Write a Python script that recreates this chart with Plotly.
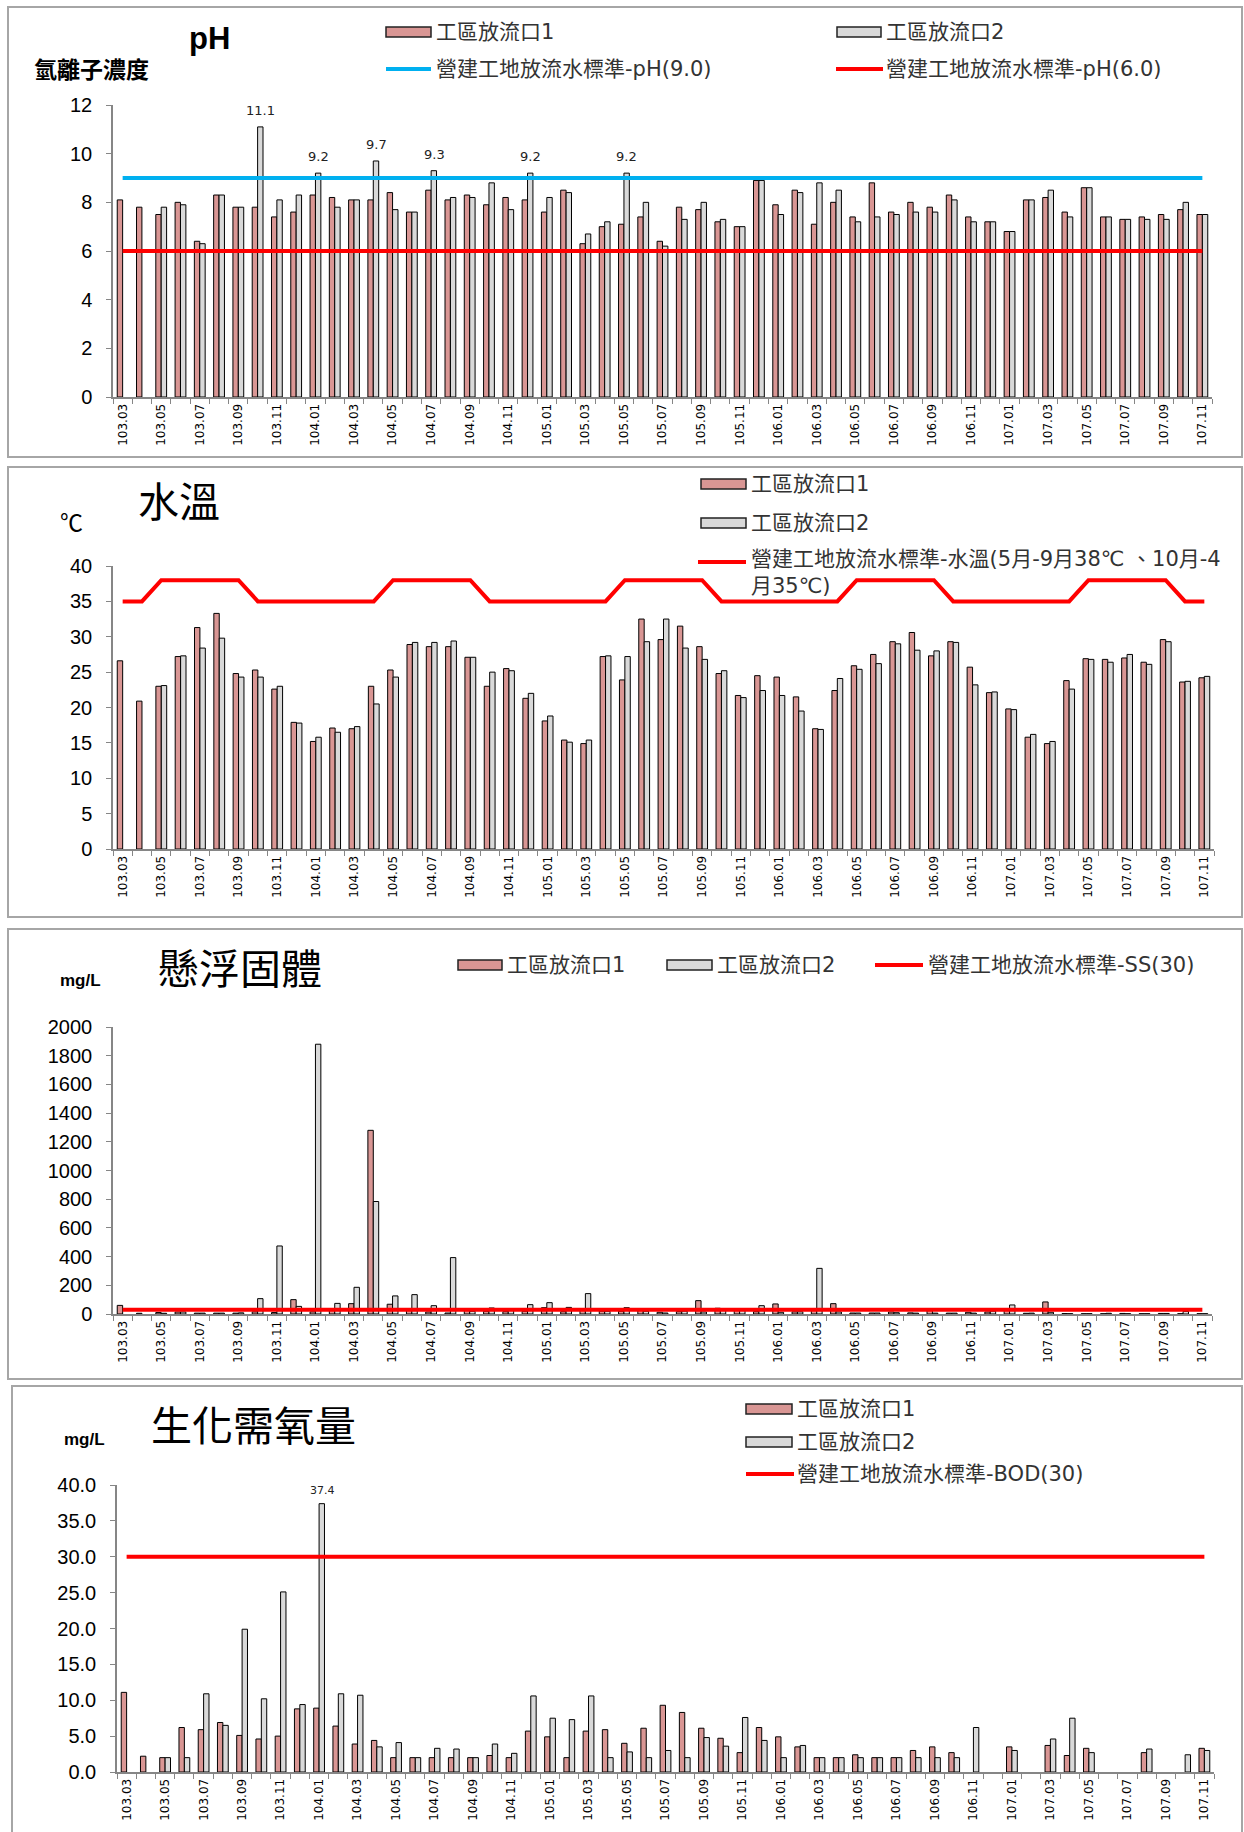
import plotly.graph_objects as go

# ---------------- data ----------------
months = ["103.03", "103.04", "103.05", "103.06", "103.07", "103.08", "103.09", "103.10", "103.11", "103.12",
          "104.01", "104.02", "104.03", "104.04", "104.05", "104.06", "104.07", "104.08", "104.09", "104.10",
          "104.11", "104.12", "105.01", "105.02", "105.03", "105.04", "105.05", "105.06", "105.07", "105.08",
          "105.09", "105.10", "105.11", "105.12", "106.01", "106.02", "106.03", "106.04", "106.05", "106.06",
          "106.07", "106.08", "106.09", "106.10", "106.11", "106.12", "107.01", "107.02", "107.03", "107.04",
          "107.05", "107.06", "107.07", "107.08", "107.09", "107.10", "107.11"]

ph_out1 = [8.1, 7.8, 7.5, 8.0, 6.4, 8.3, 7.8, 7.8, 7.4, 7.6,
           8.3, 8.2, 8.1, 8.1, 8.4, 7.6, 8.5, 8.1, 8.3, 7.9,
           8.2, 8.1, 7.6, 8.5, 6.3, 7.0, 7.1, 7.4, 6.4, 7.8,
           7.7, 7.2, 7.0, 8.9, 7.9, 8.5, 7.1, 8.0, 7.4, 8.8,
           7.6, 8.0, 7.8, 8.3, 7.4, 7.2, 6.8, 8.1, 8.2, 7.6,
           8.6, 7.4, 7.3, 7.4, 7.5, 7.7, 7.5]
ph_out2 = [None, None, 7.8, 7.9, 6.3, 8.3, 7.8, 11.1, 8.1, 8.3,
           9.2, 7.8, 8.1, 9.7, 7.7, 7.6, 9.3, 8.2, 8.2, 8.8,
           7.7, 9.2, 8.2, 8.4, 6.7, 7.2, 9.2, 8.0, 6.2, 7.3,
           8.0, 7.3, 7.0, 8.9, 7.5, 8.4, 8.8, 8.5, 7.2, 7.4,
           7.5, 7.6, 7.6, 8.1, 7.2, 7.2, 6.8, 8.1, 8.5, 7.4,
           8.6, 7.4, 7.3, 7.3, 7.3, 8.0, 7.5]
ph_std_high = [9.0] * 57
ph_std_low = [6.0] * 57

temp_out1 = [26.6, 20.9, 23.0, 27.2, 31.3, 33.3, 24.8, 25.3, 22.6, 17.9,
             15.2, 17.1, 17.0, 23.0, 25.3, 28.9, 28.6, 28.6, 27.1, 23.0,
             25.5, 21.3, 18.1, 15.4, 14.9, 27.2, 23.9, 32.5, 29.6, 31.5,
             28.6, 24.8, 21.7, 24.5, 24.3, 21.5, 17.0, 22.4, 25.9, 27.5,
             29.3, 30.6, 27.3, 29.3, 25.7, 22.1, 19.8, 15.8, 14.9, 23.8,
             26.9, 26.8, 27.0, 26.4, 29.6, 23.6, 24.2]
temp_out2 = [None, None, 23.1, 27.3, 28.4, 29.8, 24.3, 24.3, 23.0, 17.8,
             15.8, 16.5, 17.3, 20.5, 24.3, 29.2, 29.2, 29.4, 27.1, 25.0,
             25.2, 22.0, 18.8, 15.1, 15.4, 27.3, 27.2, 29.3, 32.5, 28.4,
             26.8, 25.2, 21.4, 22.4, 21.7, 19.5, 16.9, 24.1, 25.4, 26.2,
             29.0, 28.1, 28.0, 29.2, 23.2, 22.2, 19.7, 16.2, 15.2, 22.6,
             26.8, 26.4, 27.5, 26.1, 29.3, 23.7, 24.4]
temp_std = [35, 35, 38, 38, 38, 38, 38, 35, 35, 35,
            35, 35, 35, 35, 38, 38, 38, 38, 38, 35,
            35, 35, 35, 35, 35, 35, 38, 38, 38, 38,
            38, 35, 35, 35, 35, 35, 35, 35, 38, 38,
            38, 38, 38, 35, 35, 35, 35, 35, 35, 35,
            38, 38, 38, 38, 38, 35, 35]

ss_out1 = [60, 5, 10, 14, 6, 6, 6, 15, 10, 100,
           15, 30, 72, 1280, 68, 30, 14, 7, 30, 19,
           16, 19, 44, 16, 30, 20, 19, 37, 12, 16,
           93, 40, 30, 16, 70, 15, 35, 72, 7, 7,
           14, 8, 30, 6, 12, 14, 30, 5, 84, 3,
           2, 2, 4, 2, 4, 2, 2]
ss_out2 = [None, None, 5, 14, 6, 6, 8, 107, 474, 53,
           1880, 74, 186, 784, 126, 135, 58, 393, 19, 42,
           30, 65, 79, 46, 142, 19, 44, 19, 7, 20,
           14, 30, 28, 58, 12, 15, 318, 14, 7, 7,
           9, 6, 6, 6, 6, 20, 63, 6, 12, 2,
           2, 5, 2, 2, 4, 18, 2]
ss_std = [30] * 57

bod_out1 = [11.1, 2.2, 2.0, 6.2, 5.9, 6.9, 5.1, 4.6, 5.0, 8.8,
            8.9, 6.4, 3.9, 4.4, 2.0, 2.0, 2.0, 2.0, 2.0, 2.3,
            2.0, 5.7, 4.9, 2.0, 5.7, 5.9, 4.0, 6.1, 9.3, 8.3,
            6.1, 4.7, 2.7, 6.2, 4.9, 3.5, 2.0, 2.0, 2.4, 2.0,
            2.0, 3.0, 3.5, 2.7, None, None, 3.5, None, 3.7, 2.3,
            3.3, None, None, 2.7, None, None, 3.3]
bod_out2 = [None, None, 2.0, 2.0, 10.9, 6.5, 19.9, 10.2, 25.1, 9.4,
            37.4, 10.9, 10.7, 3.5, 4.1, 2.0, 3.3, 3.2, 2.0, 3.9,
            2.6, 10.6, 7.5, 7.3, 10.6, 2.0, 2.8, 2.0, 3.0, 2.0,
            4.8, 3.6, 7.6, 4.4, 2.0, 3.7, 2.0, 2.0, 2.0, 2.0,
            2.0, 2.0, 2.0, 2.0, 6.2, None, 3.0, None, 4.6, 7.5,
            2.7, None, None, 3.2, None, 2.4, 3.0]
bod_std = [30] * 57

name1 = "工區放流口1"
name2 = "工區放流口2"

# ---------------- style ----------------
W, H = 1244, 1832
PINK = "#D99694"
GRAY = "#D9D9D9"
BLUE = "#00B0F0"
RED = "#FF0000"
AX = "#868686"
CJK = "DejaVu Sans, Noto Sans CJK TC, sans-serif"
TITLE_FONT = "Noto Sans CJK TC, sans-serif"


def px(x):
    return x / W


def py(y):
    return 1 - y / H


xlabels = [m if i % 2 == 0 else "" for i, m in enumerate(months)]


def xaxis_cfg(x0, x1, anchor):
    return dict(domain=[px(x0), px(x1)], anchor=anchor, type="category",
                categoryorder="array", categoryarray=months, range=[-0.5, len(months) - 0.5],
                tickmode="array", tickvals=months, ticktext=xlabels, tickson="boundaries",
                ticks="outside", ticklen=5, tickwidth=1, tickcolor=AX,
                showline=True, linecolor=AX, linewidth=2, tickangle=-90,
                tickfont=dict(family="DejaVu Sans", size=12, color="black"),
                showgrid=False, zeroline=False, automargin=False, fixedrange=True)


def yaxis_cfg(y_top, y_bot, anchor, rng, dtick, fmt):
    return dict(domain=[py(y_bot), py(y_top)], anchor=anchor, range=rng, dtick=dtick, tick0=0,
                tickformat=fmt, ticks="outside", ticklen=5, tickwidth=1, tickcolor=AX,
                showline=True, linecolor=AX, linewidth=1.5, showgrid=False, zeroline=False,
                tickfont=dict(family="Liberation Sans", size=20, color="black"),
                ticklabelstandoff=10, automargin=False, fixedrange=True)


fig = go.Figure()


def add_bars(y1, y2, xa, ya):
    fig.add_trace(go.Bar(x=months, y=y1, name=name1, xaxis=xa, yaxis=ya,
                         marker=dict(color=PINK, line=dict(color="black", width=1)),
                         showlegend=False))
    fig.add_trace(go.Bar(x=months, y=y2, name=name2, xaxis=xa, yaxis=ya,
                         marker=dict(color=GRAY, line=dict(color="black", width=1)),
                         showlegend=False))


def add_line(y, xa, ya, color, name):
    fig.add_trace(go.Scatter(x=months, y=y, xaxis=xa, yaxis=ya, mode="lines", name=name,
                             line=dict(color=color, width=4), showlegend=False, hoverinfo="skip"))


add_bars(ph_out1, ph_out2, "x", "y")
add_line(ph_std_high, "x", "y", BLUE, "營建工地放流水標準-pH(9.0)")
add_line(ph_std_low, "x", "y", RED, "營建工地放流水標準-pH(6.0)")

add_bars(temp_out1, temp_out2, "x2", "y2")
add_line(temp_std, "x2", "y2", RED, "營建工地放流水標準-水溫")

add_bars(ss_out1, ss_out2, "x3", "y3")
add_line(ss_std, "x3", "y3", RED, "營建工地放流水標準-SS(30)")

add_bars(bod_out1, bod_out2, "x4", "y4")
add_line(bod_std, "x4", "y4", RED, "營建工地放流水標準-BOD(30)")

shapes = []
annotations = []

# data labels above the outlet-2 bars that exceed the standards
# (category axes take the category index as the annotation position)
for i, v in enumerate(ph_out2):
    if v is not None and v > 9.0:
        annotations.append(dict(xref="x", yref="y", x=i, y=v, text="%.1f" % v, showarrow=False,
                                yanchor="bottom", xanchor="center", xshift=3, yshift=7,
                                font=dict(family="DejaVu Sans", size=13, color="#222222")))
for i, v in enumerate(bod_out2):
    if v is not None and v > 30:
        annotations.append(dict(xref="x4", yref="y4", x=i, y=v, text="%.1f" % v, showarrow=False,
                                yanchor="bottom", xanchor="center", xshift=3, yshift=5,
                                font=dict(family="DejaVu Sans", size=11, color="#222222")))

# panel borders
for (x0, y0, x1, y1) in [(8, 7, 1242, 457), (8, 467, 1242, 917), (8, 929, 1242, 1379), (12, 1386, 1242, 1840)]:
    shapes.append(dict(type="rect", xref="paper", yref="paper", x0=px(x0), x1=px(x1), y0=py(y0), y1=py(y1),
                       line=dict(color="#A6A6A6", width=2), fillcolor="rgba(0,0,0,0)", layer="below"))


def legend_box(x0, x1, yc, color):
    shapes.append(dict(type="rect", xref="paper", yref="paper", x0=px(x0), x1=px(x1),
                       y0=py(yc + 5), y1=py(yc - 5), fillcolor=color,
                       line=dict(color="#222222", width=1.5)))


def legend_line(x0, x1, yc, color):
    shapes.append(dict(type="line", xref="paper", yref="paper", x0=px(x0), x1=px(x1),
                       y0=py(yc), y1=py(yc), line=dict(color=color, width=4)))


def text(x, y, s, size, family=CJK, weight="normal", color="#333333", xanchor="left"):
    annotations.append(dict(xref="paper", yref="paper", x=px(x), y=py(y), text=s, showarrow=False,
                            xanchor=xanchor, yanchor="middle", align="left",
                            font=dict(family=family, size=size, color=color, weight=weight)))


LEG = 21
# panel 1 legend & titles
legend_box(386, 431, 32, PINK)
text(434, 32, name1, LEG)
legend_box(837, 881, 32, GRAY)
text(884, 32, name2, LEG)
legend_line(386, 431, 69, BLUE)
text(434, 69, "營建工地放流水標準-pH(9.0)", LEG)
legend_line(836, 883, 69, RED)
text(884, 69, "營建工地放流水標準-pH(6.0)", LEG)
text(187, 39, "pH", 31, family="Liberation Sans", weight="bold", color="black")
text(32, 68, "氫離子濃度", 23, family=TITLE_FONT, weight="bold", color="black")

# panel 2 legend & titles
legend_box(701, 746, 484, PINK)
text(749, 484, name1, LEG)
legend_box(701, 746, 523, GRAY)
text(749, 523, name2, LEG)
legend_line(698, 746, 562, RED)
text(749, 572, "營建工地放流水標準-水溫(5月-9月38℃ 、10月-4<br>月35℃)", LEG)
text(136, 499, "水溫", 41, family=TITLE_FONT, color="black")
text(58, 521, "℃", 23, family=TITLE_FONT, color="black")

# panel 3 legend & titles
legend_box(458, 502, 965, PINK)
text(505, 965, name1, LEG)
legend_box(667, 712, 965, GRAY)
text(715, 965, name2, LEG)
legend_line(875, 923, 965, RED)
text(926, 965, "營建工地放流水標準-SS(30)", LEG)
text(156, 966, "懸浮固體", 41, family=TITLE_FONT, color="black")
text(58, 981, "mg/L", 17, family="Liberation Sans", weight="bold", color="black")

# panel 4 legend & titles
legend_box(746, 792, 1409, PINK)
text(795, 1409, name1, LEG)
legend_box(746, 792, 1442, GRAY)
text(795, 1442, name2, LEG)
legend_line(746, 794, 1474, RED)
text(795, 1474, "營建工地放流水標準-BOD(30)", LEG)
text(149, 1423, "生化需氧量", 41, family=TITLE_FONT, color="black")
text(62, 1439, "mg/L", 17, family="Liberation Sans", weight="bold", color="black")

fig.update_layout(
    width=W, height=H, autosize=False,
    margin=dict(l=0, r=0, t=0, b=0, pad=0),
    paper_bgcolor="white", plot_bgcolor="white",
    barmode="group", bargap=0.44, bargroupgap=0,
    showlegend=False,
    xaxis=xaxis_cfg(113, 1212, "y"),
    yaxis=yaxis_cfg(105, 397, "x", [0, 12], 2, "d"),
    xaxis2=xaxis_cfg(113, 1214, "y2"),
    yaxis2=yaxis_cfg(566, 849, "x2", [0, 40], 5, "d"),
    xaxis3=xaxis_cfg(113, 1212, "y3"),
    yaxis3=yaxis_cfg(1027, 1314, "x3", [0, 2000], 200, "d"),
    xaxis4=xaxis_cfg(117, 1214, "y4"),
    yaxis4=yaxis_cfg(1485, 1772, "x4", [0, 40], 5, ".1f"),
    shapes=shapes,
    annotations=annotations,
)

fig.write_html("out.html", config={"displayModeBar": False},
               post_script="document.body.style.margin='0';document.body.style.overflow='hidden';")
